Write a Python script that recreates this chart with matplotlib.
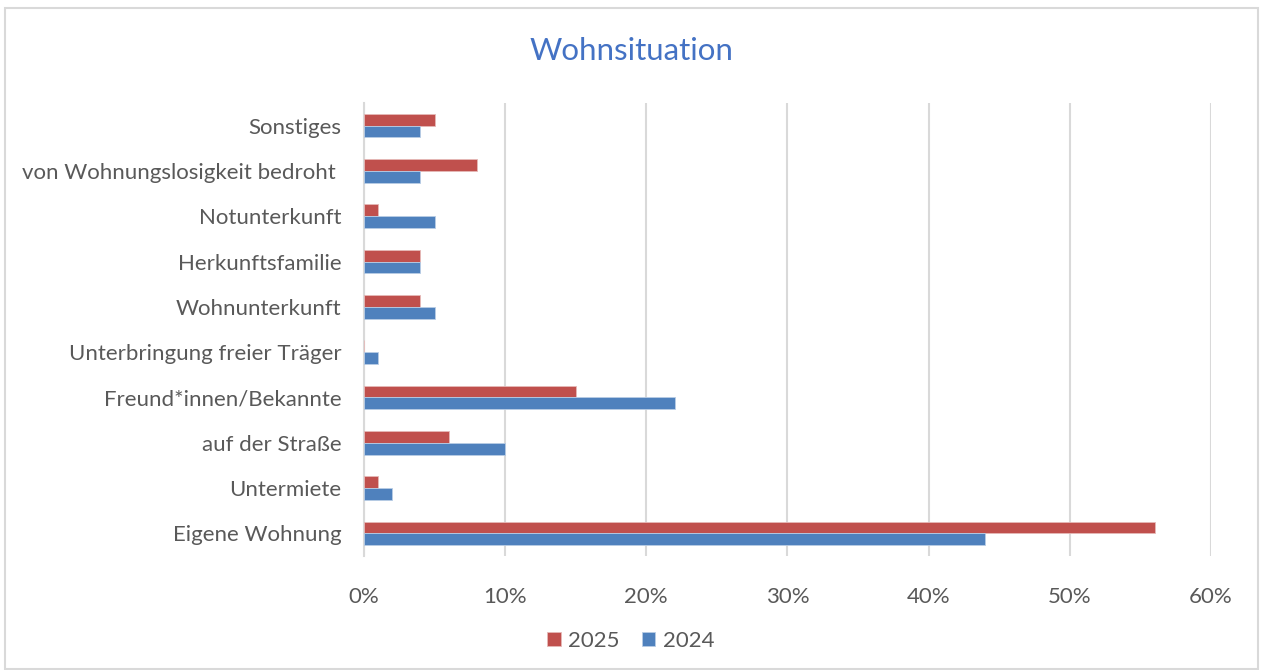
import numpy as np
import matplotlib
matplotlib.use("Agg")
import matplotlib.pyplot as plt
from matplotlib.patches import Rectangle
from matplotlib.ticker import PercentFormatter

categories = ["Eigene Wohnung", "Untermiete", "auf der Straße", "Freund*innen/Bekannte",
              "Unterbringung freier Träger", "Wohnunterkunft", "Herkunftsfamilie",
              "Notunterkunft", "von Wohnungslosigkeit bedroht ", "Sonstiges"]
values_2025 = [56, 1, 6, 15, 0, 4, 4, 1, 8, 5]
values_2024 = [44, 2, 10, 22, 1, 5, 4, 5, 4, 4]
x_ticks = [0, 10, 20, 30, 40, 50, 60]

plt.rcParams["font.family"] = ["Lato", "DejaVu Sans"]
text_color = "#595959"

fig = plt.figure(figsize=(12.62, 6.70), dpi=100)
ax = fig.add_axes([0.2884, 0.1701, 0.6712, 0.6762])

y = np.arange(len(categories))
h = 0.26
ax.barh(y + h / 2, values_2025, height=h, color="#C0504D", edgecolor="#E6B9B8", linewidth=0.6, label="2025", zorder=3)
ax.barh(y - h / 2, values_2024, height=h, color="#4F81BD", edgecolor="#B9CDE5", linewidth=0.6, label="2024", zorder=3)

ax.set_xlim(0, 60)
ax.set_ylim(-0.5, len(categories) - 0.5)
ax.set_xticks(x_ticks)
ax.xaxis.set_major_formatter(PercentFormatter(decimals=0))
ax.set_yticks(y)
ax.set_yticklabels(categories)
ax.tick_params(axis="both", length=0, labelsize=16, colors=text_color)
ax.tick_params(axis="x", pad=22)
ax.tick_params(axis="y", pad=16)
ax.grid(axis="x", color="#D9D9D9", linewidth=1.5, zorder=0)
for s in ["top", "right", "bottom"]:
    ax.spines[s].set_visible(False)
ax.spines["left"].set_color("#D9D9D9")
ax.spines["left"].set_linewidth(1.5)

fig.text(0.5, 0.924, "Wohnsituation", ha="center", va="center", fontsize=22.5,
         color="#4472C4")

handles, labels = ax.get_legend_handles_labels()
fig.legend(handles, labels, loc="center", bbox_to_anchor=(0.5, 0.044), ncol=2, frameon=False,
           fontsize=16, labelcolor=text_color, handlelength=0.6, handleheight=0.6,
           handletextpad=0.35, columnspacing=1.0)

fig.patches.append(Rectangle((0.004, 0.002), 0.993, 0.986, transform=fig.transFigure,
                             fill=False, edgecolor="#D9D9D9", linewidth=1.5))

fig.savefig("out.png", dpi=100)
